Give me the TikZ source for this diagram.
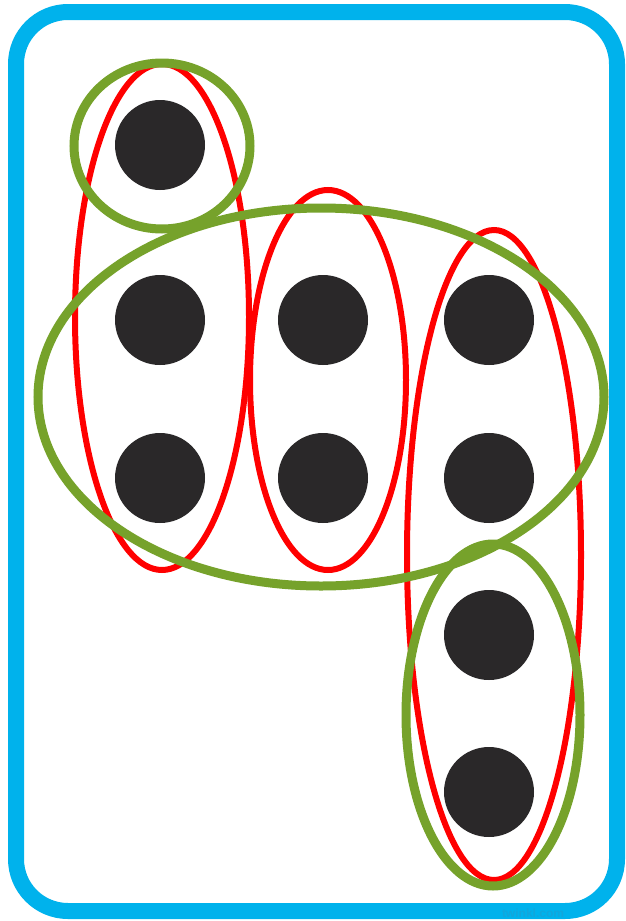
\documentclass[tikz,border=0pt]{standalone}
\usepackage{fontspec}
\newfontfamily\wmfont{Liberation Sans}
\definecolor{cardblue}{HTML}{00B2EC}
\definecolor{wmblue}{HTML}{12A6DC}
\definecolor{dotgray}{HTML}{2A2829}
\definecolor{grpred}{HTML}{FF0000}
\definecolor{grpgreen}{HTML}{76A22B}
\begin{document}
\begin{tikzpicture}[x=1pt,y=-1pt,
  dot/.style={circle,fill=dotgray,minimum size=90pt,inner sep=0pt},
  redring/.style={draw=grpred,line width=6pt},
  greenring/.style={draw=grpgreen,line width=9pt}]
\useasboundingbox (0,0) rectangle (626,921);
\fill[white] (0,0) rectangle (626,921);
\draw[cardblue,line width=16pt,rounded corners=52pt] (16,12) rectangle (617,911);
\node[font=\wmfont\bfseries\fontsize{12}{12}\selectfont,text=wmblue,inner sep=0pt] (wm) at (533,913) {twinkl.com};
% dots
\node[dot] (d1) at (160,145) {};
\node[dot] (d2) at (160,320) {};
\node[dot] (d3) at (160,478) {};
\node[dot] (d4) at (323,320) {};
\node[dot] (d5) at (323,478) {};
\node[dot] (d6) at (489,320) {};
\node[dot] (d7) at (489,478) {};
\node[dot] (d8) at (489,635) {};
\node[dot] (d9) at (489,792) {};
% red groups
\draw[redring] (162,317) ellipse [x radius=87, y radius=253];
\draw[redring] (328,380) ellipse [x radius=78, y radius=190];
\draw[redring] (494,555) ellipse [x radius=87, y radius=325];
% green groups
\draw[greenring] (162,146) ellipse [x radius=88, y radius=83];
\draw[greenring] (321,397) ellipse [x radius=283, y radius=189];
\draw[greenring] (493,715) ellipse [x radius=87, y radius=171];
\end{tikzpicture}
\end{document}
